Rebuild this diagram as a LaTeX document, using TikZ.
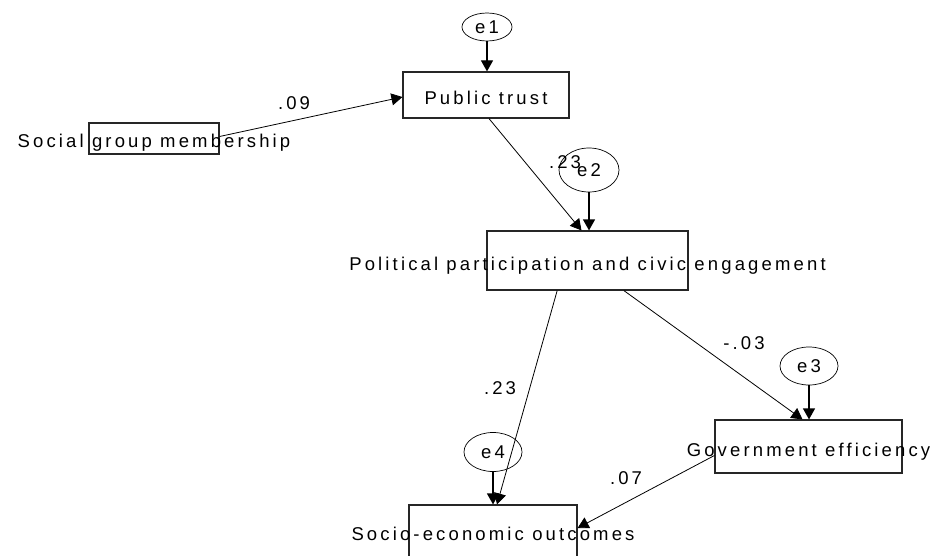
\documentclass[tikz,border=0pt]{standalone}
\usepackage{fontspec}
\setmainfont{Liberation Sans}[LetterSpace=17]
\usetikzlibrary{arrows.meta,shapes.geometric,calc}

% text that is centred on its box and may run past its edges
\newcommand\overtext[1]{\raisebox{-9.5pt}[0pt][0pt]{\makebox[0pt]{#1}}}

\tikzset{
  every node/.style={font=\fontsize{18.5}{20}\selectfont},
  var/.style={draw=black!85, line width=1.2pt, rectangle, inner sep=0pt},
  err/.style={draw=black, ellipse, line width=0.7pt, inner sep=0pt},
  coef/.style={inner sep=0pt},
  pathline/.style={line width=0.8pt, -{Triangle[length=11pt,width=12pt]}},
  errline/.style={line width=1.2pt, -{Triangle[length=11pt,width=12pt]}}
}

\begin{document}
\begin{tikzpicture}[x=1pt,y=-1pt]
\fill[white] (0,0) rectangle (933,556);
\useasboundingbox (0,0) rectangle (933,556);

% observed variables
\node[var, minimum width=130pt, minimum height=31pt] (soc) at (154,138.5) {\overtext{Social group membership}};
\node[var, minimum width=166pt, minimum height=46pt] (pt)  at (486,95)    {\overtext{Public trust}};
\node[var, minimum width=201pt, minimum height=59pt] (pol) at (587.5,260.5) {\overtext{Political participation and civic engagement}};
\node[var, minimum width=187pt, minimum height=53pt] (gov) at (808.5,446.5) {\overtext{Government efficiency}};
\node[var, minimum width=168pt, minimum height=52pt] (ses) at (493,531)   {\overtext{Socio-economic outcomes}};

% error terms
\node[err, minimum width=50pt, minimum height=28pt] (e1) at (487,27)  {e1};
\node[err, minimum width=60pt, minimum height=44pt] (e2) at (589,170) {e2};
\node[err, minimum width=58pt, minimum height=38pt] (e3) at (809,366) {e3};
\node[err, minimum width=58pt, minimum height=39pt] (e4) at (493,452) {e4};

% error paths
\draw[errline] (e1) -- (e1 |- pt.north);
\draw[errline] (e2) -- (e2 |- pol.north);
\draw[errline] (e3) -- (e3 |- gov.north);
\draw[errline] (e4) -- (e4 |- ses.north);

% structural paths
\draw[pathline] ($(soc.east)+(0,-2)$) -- ($(pt.west)+(0,2)$);
\draw[pathline] ($(pt.south)+(3,0)$) -- ($(pol.north)+(-6,0)$);
\draw[pathline] ($(pol.south west)!0.35!(pol.south east)$) -- ($(ses.north)+(4,0)$);
\draw[pathline] ($(pol.south west)!0.68!(pol.south east)$) -- ($(gov.north)+(-6,0)$);
\draw[pathline] ($(gov.west)+(0,9)$) -- ($(ses.east)+(0,-3)$);

% path coefficients
\node[coef] (c1) at (294,103) {.09};
\node[coef] (c2) at (565,162) {.23};
\node[coef] (c3) at (500,388) {.23};
\node[coef] (c4) at (744,343) {-.03};
\node[coef] (c5) at (626,478) {.07};
\end{tikzpicture}
\end{document}
